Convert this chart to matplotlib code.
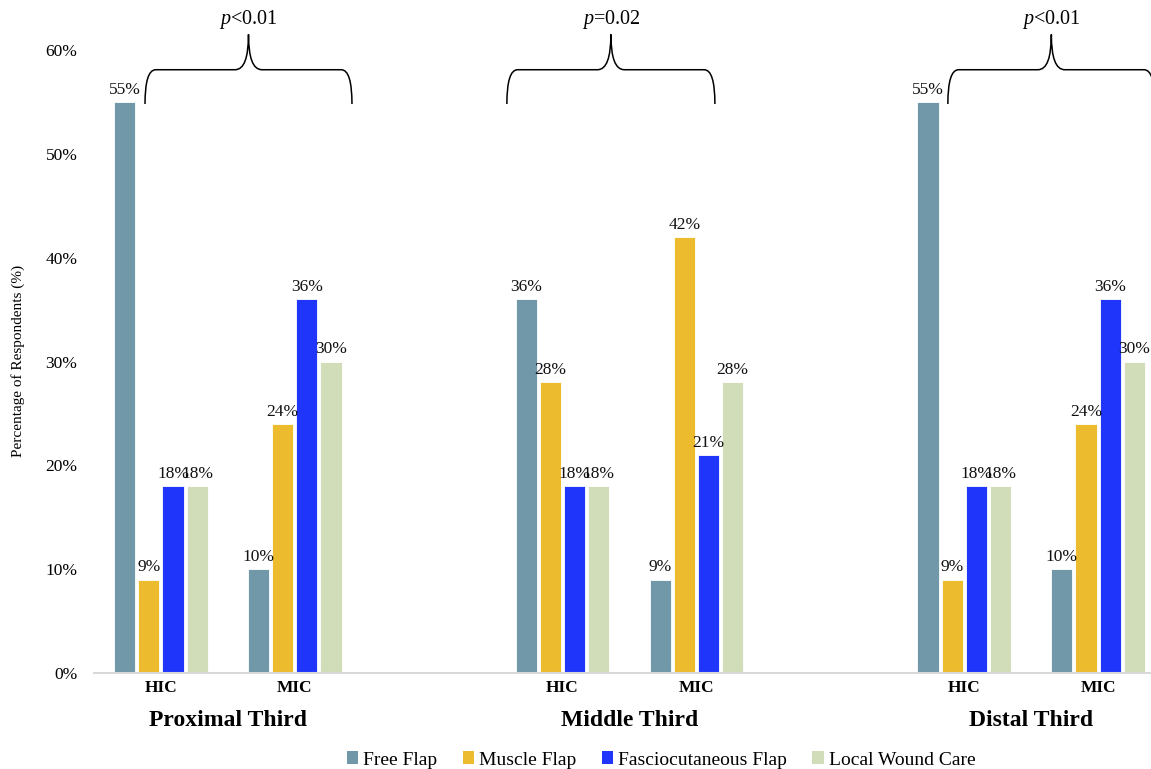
import matplotlib
matplotlib.use("Agg")
import matplotlib.pyplot as plt
from matplotlib.path import Path
from matplotlib.patches import PathPatch, Patch
import matplotlib.transforms as mtransforms
import numpy as np

plt.rcParams['font.family'] = ['Liberation Serif', 'DejaVu Serif']
plt.rcParams['mathtext.fontset'] = 'custom'
plt.rcParams['mathtext.it'] = 'Liberation Serif:italic'
plt.rcParams['mathtext.rm'] = 'Liberation Serif'

# ---- data ----
regions = ["Proximal Third", "Middle Third", "Distal Third"]
centers = ["HIC", "MIC"]
series = ["Free Flap", "Muscle Flap", "Fasciocutaneous Flap", "Local Wound Care"]
colors = ["#7098A8", "#EDBB2E", "#2035FA", "#D0DDB8"]
# values per series, order: Prox HIC, Prox MIC, Mid HIC, Mid MIC, Dist HIC, Dist MIC
free_flap = [55, 10, 36, 9, 55, 10]
muscle_flap = [9, 24, 28, 42, 9, 24]
fascio_flap = [18, 36, 18, 21, 18, 36]
local_care = [18, 30, 18, 28, 18, 30]
p_values = ["$p$<0.01", "$p$=0.02", "$p$<0.01"]
yticks = [0, 10, 20, 30, 40, 50, 60]

values = [free_flap, muscle_flap, fascio_flap, local_care]

# slot positions (empty slot between regions)
slots = [0, 1, 3, 4, 6, 7]

W, H = 1151, 769
fig = plt.figure(figsize=(W / 100, H / 100), dpi=100)
left_px, right_px, top_px, bot_px = 94, 1165, 50, 673
ax = fig.add_axes([left_px / W, (H - bot_px) / H, (right_px - left_px) / W, (bot_px - top_px) / H])

step = 0.1805
bw = 0.158
for i, (vals, col, name) in enumerate(zip(values, colors, series)):
    xs = np.array(slots) + (i - 1.5) * step
    ax.bar(xs, vals, width=bw, color=col, edgecolor="white", linewidth=0.6, label=name, zorder=2)
    for x, v in zip(xs, vals):
        ax.annotate(f"{v}%", (x, v), xytext=(0, 3), textcoords="offset points",
                    ha="center", va="bottom", fontsize=12.5, color="#111111")

ax.set_xlim(-0.5, 7.5)
ax.set_ylim(0, 60)
ax.set_yticks(yticks)
ax.set_yticklabels([f"{t}%" for t in yticks], fontsize=12.5)
ax.tick_params(axis="y", length=0, pad=12)
ax.set_xticks([])
for s in ["top", "right", "left"]:
    ax.spines[s].set_visible(False)
ax.spines["bottom"].set_color("#D9D9D9")
ax.spines["bottom"].set_linewidth(1.5)

# category labels
trans = mtransforms.blended_transform_factory(ax.transData, fig.transFigure)
for k, s in enumerate(slots):
    fig.text(s, (H - 688) / H, centers[k % 2], transform=trans, ha="center", va="center",
             fontsize=12.5, fontweight="bold")
for r, name in enumerate(regions):
    xc = (slots[2 * r] + slots[2 * r + 1]) / 2
    fig.text(xc, (H - 720) / H, name, transform=trans, ha="center", va="center",
             fontsize=17, fontweight="bold")

fig.text(18 / W, (H - 361) / H, "Percentage of Respondents (%)", rotation=90,
         ha="center", va="center", fontsize=11)


def brace(x0, x1, ybot, ytop, ycusp, dx=0.08, dxc=0.1):
    xc = (x0 + x1) / 2
    verts = [(x0, ybot), (x0, ytop), (x0 + dx, ytop),
             (xc - dxc, ytop),
             (xc, ytop), (xc, ycusp),
             (xc, ytop), (xc + dxc, ytop),
             (x1 - dx, ytop),
             (x1, ytop), (x1, ybot)]
    codes = [Path.MOVETO, Path.CURVE3, Path.CURVE3,
             Path.LINETO,
             Path.CURVE3, Path.CURVE3,
             Path.CURVE3, Path.CURVE3,
             Path.LINETO,
             Path.CURVE3, Path.CURVE3]
    p = PathPatch(Path(verts, codes), fill=False, lw=1.1, color="black", clip_on=False)
    ax.add_patch(p)
    return xc


brace_spans = [(-0.119, 1.427), (2.584, 4.138), (5.878, 7.424)]
for (x0, x1), pv in zip(brace_spans, p_values):
    xc = brace(x0, x1, 54.8, 58.1, 61.5)
    ax.text(xc, 62.9, pv, ha="center", va="center", fontsize=14.5, clip_on=False)

handles = [Patch(facecolor=c, edgecolor="none", label=s) for c, s in zip(colors, series)]
fig.legend(handles=handles, loc="center", bbox_to_anchor=(661 / W, (H - 760) / H), ncol=4,
           frameon=False, fontsize=14, handlelength=0.6, handleheight=0.6,
           handletextpad=0.25, columnspacing=1.3)

fig.savefig("out.png", dpi=100)
